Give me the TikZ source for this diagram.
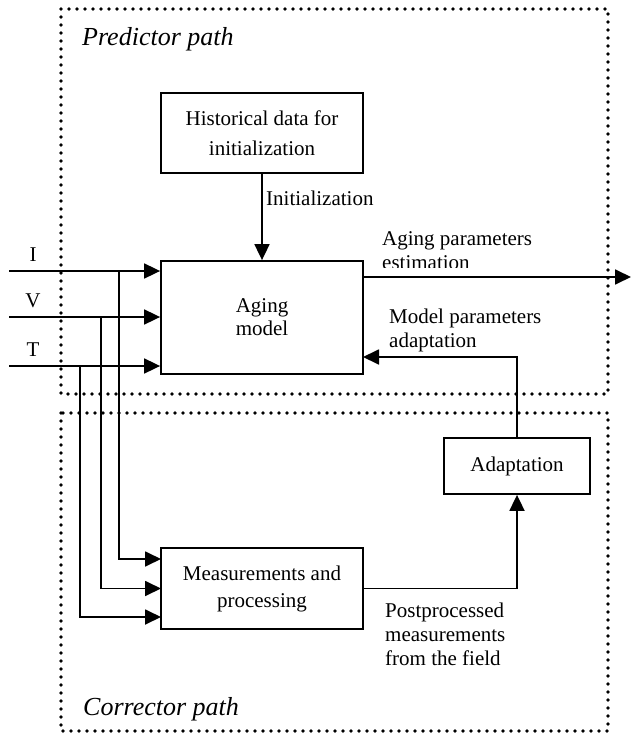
\documentclass[tikz,border=0pt]{standalone}
\usepackage{fontspec}
\setmainfont{Liberation Serif}
\usetikzlibrary{positioning,arrows.meta}

\begin{document}
\begin{tikzpicture}[
    x=1pt, y=-1pt,
    font=\fontsize{21}{24}\selectfont,
    box/.style={draw, line width=1.8pt, align=center, inner sep=3pt},
    blk/.style={box, minimum width=202pt},
    lbl/.style={inner sep=0pt, align=left},
    sig/.style={inner sep=0pt, anchor=base},
    pathlbl/.style={inner sep=0pt, anchor=base west,
                    font=\fontsize{26}{30}\selectfont\itshape},
    frame/.style={line width=3.6pt, line cap=round, dash pattern=on 0pt off 8pt},
    flow/.style={-{Triangle[length=16pt, width=15pt]}, line width=1.8pt},
  ]
  \useasboundingbox (0,0) rectangle (632,733);

  % --- Path frames --------------------------------------------------------
  \draw[frame] (61,9) rectangle (608,394);
  \draw[frame] (61,413) rectangle (608,731);
  \node[pathlbl] (pred) at (82,46)  {Predictor path};
  \node[pathlbl] (corr) at (83,715) {Corrector path};

  % --- Blocks -------------------------------------------------------------
  \node[blk, minimum height=80pt, font=\fontsize{21}{30}\selectfont] (hist) at (262,133)
    {Historical data for\\initialization};
  \node[blk, minimum height=113pt, font=\fontsize{21}{23}\selectfont] (aging) at (262,317.5)
    {Aging\\model};
  \node[blk, minimum height=81pt, font=\fontsize{21}{27}\selectfont] (meas) at (262,588.5)
    {Measurements and\\processing};
  \node[box, minimum width=146pt, minimum height=56pt] (adapt) at (517,466) {Adaptation};

  % --- Inputs -------------------------------------------------------------
  \foreach \sig/\yin/\xbr/\yms in {I/271/119/559, V/317/101/588.5, T/366/80/617} {
    \coordinate (in\sig) at (9,\yin);
    \coordinate (br\sig) at (\xbr,\yin);
    \coordinate (ms\sig) at (161,\yms);
    \node[sig] (lbl\sig) at (33,{\yin-10}) {\sig};
    \draw[flow] (in\sig) -- (in\sig -| aging.west);
    \draw[flow] (br\sig) |- (ms\sig);
  }

  % --- Arrows -------------------------------------------------------------
  \coordinate (estout) at (631,277);
  \coordinate (fbin)   at (363,357);
  \draw[flow] (hist) -- (aging);
  \draw[flow] (aging.east |- estout) -- (estout);
  \draw[flow] (adapt.north) |- (fbin);
  \draw[flow] (meas.east) -| (adapt.south);

  % --- Labels -------------------------------------------------------------
  \node[lbl, anchor=base west] (init) at (266,205) {Initialization};
  \begin{scope}
    \clip (370,220) rectangle (632,267);
    \node[lbl, anchor=north west] (estlbl) at (382,231.5) {Aging parameters\\estimation};
  \end{scope}
  \node[lbl, anchor=north west] (fblbl) at (389,308.7) {Model parameters\\adaptation};
  \node[lbl, anchor=north west] (pplbl) at (385,602.7)
    {Postprocessed\\measurements\\from the field};

\end{tikzpicture}
\end{document}
